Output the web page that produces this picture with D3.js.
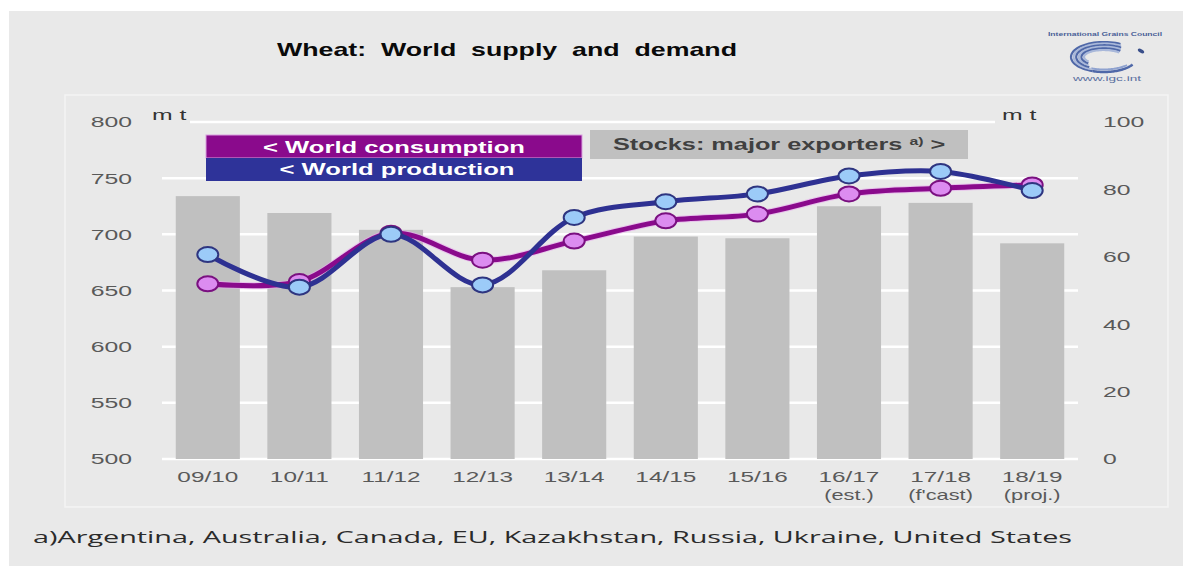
<!DOCTYPE html>
<html><head><meta charset="utf-8">
<script src="https://cdn.jsdelivr.net/npm/d3@7"></script>
<style>
html,body{margin:0;padding:0;background:#fff;}
svg{display:block;}
text{font-family:"Liberation Sans",Arial,sans-serif;}
</style></head>
<body><svg id="c" width="1192" height="572"></svg>
<script>
// ---- data ----
const categories = ["09/10","10/11","11/12","12/13","13/14","14/15","15/16","16/17","17/18","18/19"];
const subLabels  = ["","","","","","","","(est.)","(f'cast)","(proj.)"];
const consumption = [656,658,701,677,694,712,718,736,741,744];
const production  = [682,653,700,655,715,729,736,752,756,739];
const stocks      = [78,73,68,51,56,66,65.5,75,76,64];
const leftTicks  = [500,550,600,650,700,750,800];
const rightTicks = [0,20,40,60,80,100];
const title = "Wheat:  World  supply  and  demand";
const footnote = "a)Argentina, Australia, Canada, EU, Kazakhstan, Russia, Ukraine, United States";

const svg = d3.select("#c");
const BG = "#e9e9e9";

// the source picture is horizontally stretched: widen text accordingly
function stretch(sel, f){
  sel.each(function(){
    const l = this.getComputedTextLength();
    d3.select(this).attr("textLength", l*f).attr("lengthAdjust","spacingAndGlyphs");
  });
}

// backgrounds
svg.append("rect").attr("x",9).attr("y",11).attr("width",1174).attr("height",555).attr("fill",BG);
svg.append("rect").attr("x",65).attr("y",95).attr("width",1103).attr("height",412)
  .attr("fill",BG).attr("stroke","#f4f4f4").attr("stroke-width",1.5);

// scales
const x = d3.scaleBand().domain(categories).range([162,1078]).paddingInner(0.3).paddingOuter(0.15);
const yL = d3.scaleLinear().domain([500,800]).range([459,122]);
const yR = d3.scaleLinear().domain([0,100]).range([459,122]);
const cx = c => x(c) + x.bandwidth()/2;

// gridlines
svg.append("g").selectAll("line").data(leftTicks).join("line")
  .attr("x1", d => d===800 ? 190 : 162)
  .attr("x2", d => d===800 ? 995 : 1078)
  .attr("y1", d => yL(d)).attr("y2", d => yL(d))
  .attr("stroke","#ffffff").attr("stroke-width",2.5);

// bars
svg.append("g").selectAll("rect").data(categories).join("rect")
  .attr("x", c => x(c)).attr("width", x.bandwidth())
  .attr("y", (c,i) => yR(stocks[i])).attr("height", (c,i) => yR(0) - yR(stocks[i]))
  .attr("fill","#c0c0c0");

// axes labels
const lAxis = svg.append("g").selectAll("text").data(leftTicks).join("text")
  .attr("x",132).attr("y", d => yL(d)).attr("dy","0.36em").attr("text-anchor","end")
  .attr("font-size",15).attr("fill","#595959").text(d => d);
stretch(lAxis,1.65);
const rAxis = svg.append("g").selectAll("text").data(rightTicks).join("text")
  .attr("x",1103).attr("y", d => yR(d)).attr("dy","0.36em").attr("text-anchor","start")
  .attr("font-size",15).attr("fill","#595959").text(d => d);
stretch(rAxis,1.65);

const mt1 = svg.append("text").attr("x",152).attr("y",120).attr("font-size",15).attr("fill","#333").text("m t");
const mt2 = svg.append("text").attr("x",1002).attr("y",120).attr("font-size",15).attr("fill","#333").text("m t");
stretch(mt1,1.65); stretch(mt2,1.65);

const xl = svg.append("g").selectAll("text").data(categories).join("text")
  .attr("x", c => cx(c)).attr("y",482).attr("text-anchor","middle")
  .attr("font-size",15).attr("fill","#595959").text(c => c);
stretch(xl,1.62);
const xl2 = svg.append("g").selectAll("text").data(subLabels.filter(s=>s)).join("text")
  .attr("x", (s) => cx(categories[subLabels.indexOf(s)])).attr("y",500).attr("text-anchor","middle")
  .attr("font-size",15).attr("fill","#595959").text(s => s);
stretch(xl2,1.45);

// legend boxes
svg.append("rect").attr("x",206).attr("y",135).attr("width",376).attr("height",23).attr("fill","#8a0a8c")
  .attr("stroke","#d9a0e0").attr("stroke-width",1);
svg.append("rect").attr("x",206).attr("y",158).attr("width",376).attr("height",23).attr("fill","#2e3399");
const lg1 = svg.append("text").attr("x",394).attr("y",153).attr("text-anchor","middle")
  .attr("font-size",16).attr("font-weight","bold").attr("fill","#fff").text("< World consumption");
const lg2 = svg.append("text").attr("x",397).attr("y",175).attr("text-anchor","middle")
  .attr("font-size",16).attr("font-weight","bold").attr("fill","#fff").text("< World production");
stretch(lg1,1.6); stretch(lg2,1.6);

svg.append("rect").attr("x",590).attr("y",130).attr("width",378).attr("height",29).attr("fill","#c0c0c0");
const st = svg.append("text").attr("x",613).attr("y",150).attr("font-size",16).attr("font-weight","bold").attr("fill","#404040");
st.append("tspan").text("Stocks: major exporters ");
st.append("tspan").attr("font-size",10).attr("dy",-5).text("a)");
st.append("tspan").attr("dy",5).text(" >");
stretch(st,1.58);

// lines
const line = d3.line().x((d,i) => cx(categories[i])).y(d => yL(d)).curve(d3.curveCatmullRom.alpha(0.5));
svg.append("path").attr("d", line(consumption)).attr("fill","none").attr("stroke","#e8a8ee").attr("stroke-width",7).attr("opacity",0.6);
svg.append("path").attr("d", line(consumption)).attr("fill","none").attr("stroke","#8a0a8c").attr("stroke-width",5);
svg.append("g").selectAll("ellipse").data(consumption).join("ellipse")
  .attr("cx",(d,i)=>cx(categories[i])).attr("cy",d=>yL(d)).attr("rx",10.5).attr("ry",7.5)
  .attr("fill","#dc8cf0").attr("stroke","#7a1080").attr("stroke-width",2);

svg.append("path").attr("d", line(production)).attr("fill","none").attr("stroke","#2e3192").attr("stroke-width",5);
svg.append("g").selectAll("ellipse").data(production).join("ellipse")
  .attr("cx",(d,i)=>cx(categories[i])).attr("cy",d=>yL(d)).attr("rx",10.5).attr("ry",7.5)
  .attr("fill","#9ccbf8").attr("stroke","#2e3580").attr("stroke-width",2);

// title
svg.append("text").attr("x",277).attr("y",56).attr("font-size",19).attr("font-weight","bold").attr("fill","#0a0a0a")
  .attr("xml:space","preserve").style("white-space","pre")
  .attr("textLength",460).attr("lengthAdjust","spacingAndGlyphs").text(title);

// footnote
svg.append("text").attr("x",33).attr("y",543).attr("font-size",16.5)
  .style("font-family","'Open Sans',sans-serif").attr("fill","#2b2b2b")
  .attr("textLength",1039).attr("lengthAdjust","spacingAndGlyphs").text(footnote);

// logo
const logo = svg.append("g");
logo.append("text").attr("x",1048).attr("y",36).attr("font-size",6).attr("font-weight","bold").attr("fill","#4a5f98")
  .attr("textLength",114).attr("lengthAdjust","spacingAndGlyphs").text("International Grains Council");
function ellArc(cx0, cy0, rx, ry, a0, a1){
  const p = d3.path();
  const n = 40;
  for(let i=0;i<=n;i++){
    const a = a0 + (a1-a0)*i/n;
    const px = cx0 + rx*Math.cos(a), py = cy0 + ry*Math.sin(a);
    if(i===0) p.moveTo(px,py); else p.lineTo(px,py);
  }
  return p.toString();
}
const deg = Math.PI/180;
[0,1,2,3,4,5].forEach(k => {
  logo.append("path")
    .attr("d", ellArc(1104, 57, 33-k*2.6, 15-k*1.6, (-60+k*4)*deg, (-250+k*6)*deg))
    .attr("fill","none").attr("stroke", k%2 ? "#a9b8da" : "#4f68a8").attr("stroke-width",2.2);
});
logo.append("path").attr("d", ellArc(1104, 57, 33, 15, 110*deg, 30*deg))
  .attr("fill","none").attr("stroke","#4f68a8").attr("stroke-width",2.5);
logo.append("path").attr("d", ellArc(1104, 57, 30, 12.5, 115*deg, 40*deg))
  .attr("fill","none").attr("stroke","#8fa2cf").attr("stroke-width",2);
logo.append("ellipse").attr("cx",1141).attr("cy",51).attr("rx",3.5).attr("ry",1.8)
  .attr("transform","rotate(30,1141,51)").attr("fill","#3a4f8a");
logo.append("text").attr("x",1073).attr("y",81).attr("font-size",7.5).attr("fill","#5a6fa0")
  .attr("textLength",68).attr("lengthAdjust","spacingAndGlyphs").text("www.igc.int");
</script></body></html>
